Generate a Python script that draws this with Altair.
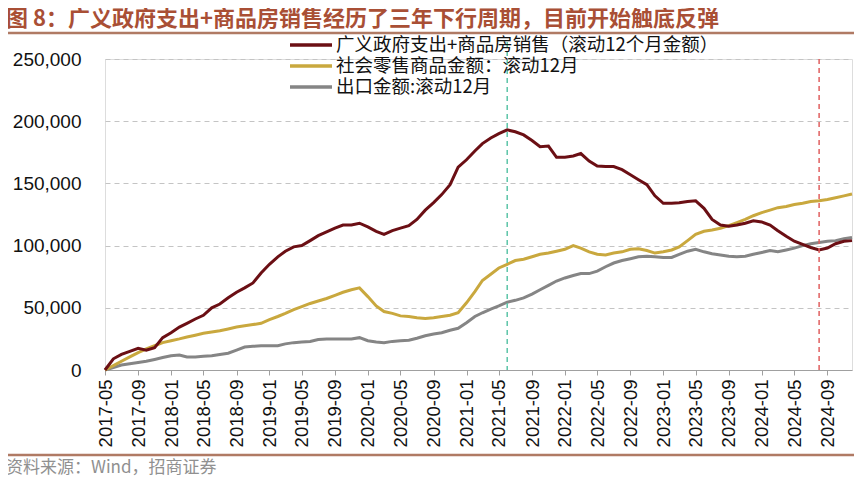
import altair as alt
import pandas as pd

# Monthly dates 2017-05 .. 2024-12
months = pd.date_range("2017-05-01", "2024-12-01", freq="MS")

gov_plus_housing = [
    0, 9, 12.5, 15, 17.5, 16, 18, 26, 30, 34.5, 37.5, 41, 44, 50, 53, 58, 62.5, 66, 70, 78,
    85, 91, 95.5, 99, 100, 104, 108, 111, 114, 116.5, 116.5, 118, 115, 111.5, 109, 112, 114, 116, 121, 128.5,
    134.5, 141, 149, 163, 169, 176, 182, 186.5, 190, 193, 191.5, 189, 184.5, 179.5, 180, 171, 171, 172, 174, 168,
    164, 163.5, 163.5, 161, 157, 153, 149, 140, 134, 134, 134.5, 135.5, 136, 130, 121, 116.5, 115.5, 116.5, 118, 120,
    119, 116.5, 112, 107.5, 103.5, 101, 98.5, 96.5, 98, 101.5, 103.5, 104,
]
retail_sales = [
    0, 3.5, 7, 10.5, 14, 17, 19.5, 22, 23.5, 25, 26.5, 28, 29.5, 30.5, 31.5, 33, 34.5, 35.5, 36.5, 37.5,
    40.5, 43, 45.5, 48.5, 51, 53.5, 55.5, 57.5, 60, 62.5, 64.5, 66, 59, 51.5, 47, 45.5, 43.5, 43, 42, 41.5,
    42, 43, 44, 46, 54, 63, 72, 77, 82, 85, 88, 89, 91, 93, 94, 95.5, 97, 100, 98, 95,
    93, 92.5, 94, 95, 97, 97.5, 96, 94, 95, 96.5, 99, 104, 109, 111.5, 112.5, 114, 116, 118.5, 121, 124,
    126.5, 128.5, 130.5, 131.5, 133, 134, 135.5, 136, 137, 138.5, 140, 141.5,
]
exports = [
    0, 2, 4, 5, 6, 7, 8.5, 10, 11.5, 12, 10.5, 10.5, 11, 11.5, 12.5, 13.5, 16, 18.5, 19, 19.5,
    19.5, 19.5, 21, 22, 22.5, 23, 24.5, 25, 25, 25, 25, 26, 23.5, 22.5, 22, 23, 23.5, 24, 25.5, 27.5,
    29, 30, 32, 33.5, 38, 43, 46, 49, 51.5, 54.5, 56, 58, 61, 64.5, 68, 71.5, 74, 76, 77.5, 77.5,
    79.5, 83, 86, 88, 89.5, 91, 91.5, 91, 90.5, 90.5, 93, 95.5, 97, 95, 93.5, 92.5, 91.5, 91, 91.5, 93,
    94.5, 96, 95, 96.5, 98, 100, 101.5, 102.5, 103.5, 104, 105.5, 106.5,
]

series_names = [
    "广义政府支出+商品房销售（滚动12个月金额）",
    "社会零售商品金额：滚动12月",
    "出口金额:滚动12月",
]
series_colors = ["#6B0F14", "#C9A83E", "#858585"]
series_values = [gov_plus_housing, retail_sales, exports]

tick_dates = list(pd.date_range("2017-05-01", "2024-09-01", freq="4MS"))
marker_dates = ["2021-06-01T00:00:00", "2024-08-01T00:00:00"]
marker_colors = ["#5CC4A8", "#E06060"]

title_text = "图 8：广义政府支出+商品房销售经历了三年下行周期，目前开始触底反弹"
source_text = "资料来源：Wind，招商证券"

W, H = 747, 311
FONT = "Liberation Sans"
CJK = "Noto Sans CJK SC"

x_scale = alt.Scale(domain=["2017-05-01T00:00:00", "2024-12-01T00:00:00"])
y_scale = alt.Scale(domain=[0, 250000], nice=False)

x_axis = alt.Axis(
    values=[alt.DateTime(year=d.year, month=d.month, date=1) for d in tick_dates],
    labelExpr="timeFormat(datum.value, '%Y-%m')",
    labelAngle=270,
    labelFontSize=18.5,
    labelFont=FONT,
    labelColor="#111111",
    labelPadding=4,
    labelOverlap=False,
    labelFlush=False,
    tickSize=5,
    tickColor="#A0A0A0",
    domainColor="#A0A0A0",
    grid=False,
    title=None,
)
y_axis = alt.Axis(
    values=[0, 50000, 100000, 150000, 200000, 250000],
    format=",d",
    labelFontSize=19,
    labelFont=FONT,
    labelColor="#111111",
    labelPadding=24,
    ticks=False,
    domain=False,
    grid=True,
    gridDash=[5, 4],
    gridColor="#C4C4C4",
    title=None,
)

layers = []
# draw gray first, red last (on top)
for i in [2, 1, 0]:
    d = pd.DataFrame({"date": months, "value": [v * 1000 for v in series_values[i]]})
    layers.append(
        alt.Chart(d).mark_line(strokeWidth=3, color=series_colors[i]).encode(
            x=alt.X("date:T", scale=x_scale, axis=x_axis),
            y=alt.Y("value:Q", scale=y_scale, axis=y_axis),
        )
    )

mk = pd.DataFrame({"date": marker_dates, "c": marker_colors, "top": [-17, 0]})
markers = alt.Chart(mk).mark_rule(strokeDash=[5, 4], strokeWidth=1.5).encode(
    x=alt.X("date:T", scale=x_scale, axis=x_axis),
    y=alt.Y("top:Q", scale=None),
    y2=alt.value(H),
    color=alt.Color("c:N", scale=None, legend=None),
)

# manual legend
leg_rows = [-14, 7, 28]
legend_layers = []
for name, col, yy in zip(series_names, series_colors, leg_rows):
    legend_layers.append(
        alt.Chart(pd.DataFrame({"a": [0]})).mark_rule(color=col, strokeWidth=3.5).encode(
            x=alt.value(185), x2=alt.value(227), y=alt.value(yy)
        )
    )
    legend_layers.append(
        alt.Chart(pd.DataFrame({"t": [name]})).mark_text(
            align="left", baseline="middle", font=CJK, fontSize=18.5, color="#111111"
        ).encode(x=alt.value(231), y=alt.value(yy), text="t:N")
    )

top_rule = alt.Chart(pd.DataFrame({"a": [0]})).mark_rule(color="#B07A64", strokeWidth=2.5).encode(
    x=alt.value(-97), x2=alt.value(W + 2), y=alt.value(-26)
)
bottom_rule = alt.Chart(pd.DataFrame({"a": [0]})).mark_rule(color="#B07A64", strokeWidth=2.5).encode(
    x=alt.value(-97), x2=alt.value(W + 2), y=alt.value(396)
)

title = alt.Chart(pd.DataFrame({"t": [title_text]})).mark_text(
    align="left", baseline="middle", font=CJK, fontSize=22, fontWeight="bold", color="#A94F35"
).encode(x=alt.value(-99), y=alt.value(-40), text="t:N")

source = alt.Chart(pd.DataFrame({"t": [source_text]})).mark_text(
    align="left", baseline="middle", font=CJK, fontSize=17, color="#909090"
).encode(x=alt.value(-99), y=alt.value(409), text="t:N")

chart = alt.layer(
    *layers, markers, *legend_layers, top_rule, bottom_rule, title, source
).properties(
    width=W,
    height=H,
    padding={"left": 97, "top": 51, "right": 2, "bottom": 110},
    autosize="none",
).configure_view(stroke=None).configure(font=CJK)

chart.save("out.html", embed_options={"renderer": "svg", "actions": False})
